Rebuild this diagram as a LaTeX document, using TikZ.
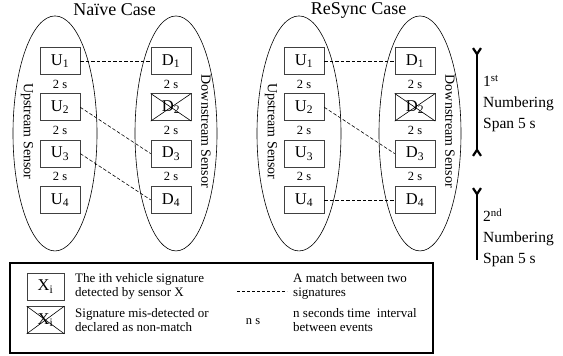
\documentclass[tikz,border=0pt]{standalone}
\usepackage{fontspec}
\setmainfont{Liberation Serif}
\usetikzlibrary{positioning,calc,arrows.meta}
\tikzset{
  sig/.style={draw=black!75, line width=0.6pt, minimum width=40pt, minimum height=27pt, inner sep=0pt, font=\fontsize{16.5}{16.5}\selectfont},
  gapnum/.style={inner sep=0pt, font=\fontsize{12.5}{12.5}\selectfont},
  sensorname/.style={rotate=-90, inner sep=0pt, font=\fontsize{14}{14}\selectfont},
  casename/.style={inner sep=0pt, font=\fontsize{18}{18}\selectfont},
  matchline/.style={line width=0.6pt, dash pattern=on 3.5pt off 2pt},
  spanbar/.style={line width=2.2pt, >={Straight Barb[length=6pt,width=8pt]}},
  spantext/.style={align=left, anchor=west, inner sep=0pt, font=\fontsize{15.5}{21}\selectfont},
  notetext/.style={align=left, anchor=west, inner sep=0pt, font=\fontsize{13}{14}\selectfont},
}
\begin{document}
\begin{tikzpicture}[x=1pt, y=1pt, node distance=46.3pt]
  \useasboundingbox (0,0) rectangle (563,356);

  \foreach \c/\dx/\ttl in {n/0/Naïve Case, r/244/ReSync Case} {
    \begin{scope}[xshift=\dx pt]
      \node [sig] (\c U1) at (60,295) {U\textsubscript{1}};
      \node [sig, below of=\c U1] (\c U2) {U\textsubscript{2}};
      \node [sig, below of=\c U2] (\c U3) {U\textsubscript{3}};
      \node [sig, below of=\c U3] (\c U4) {U\textsubscript{4}};
      \node [sig, right of=\c U1, node distance=111pt] (\c D1) {D\textsubscript{1}};
      \node [sig, below of=\c D1] (\c D2) {D\textsubscript{2}};
      \node [sig, below of=\c D2] (\c D3) {D\textsubscript{3}};
      \node [sig, below of=\c D3] (\c D4) {D\textsubscript{4}};
      \draw [line width=0.6pt] (\c D2.north west) -- (\c D2.south east) (\c D2.south west) -- (\c D2.north east);

      \foreach \i/\j in {1/2, 2/3, 3/4} {
        \node [gapnum] at ($(\c U\i)!.5!(\c U\j)$) {2 s};
        \node [gapnum] at ($(\c D\i)!.5!(\c D\j)$) {2 s};
      }

      \draw [line width=0.6pt] ($(\c U1)!.5!(\c U4)+(-5,-3)$) ellipse [x radius=42pt, y radius=117.5pt];
      \draw [line width=0.6pt] ($(\c D1)!.5!(\c D4)+(5,-3)$) ellipse [x radius=41pt, y radius=117.5pt];
      \node [sensorname] at ($(\c U1)!.5!(\c U4)+(-33,-1)$) {Upstream Sensor};
      \node [sensorname] at ($(\c D1)!.5!(\c D4)+(35,-1)$) {Downstream Sensor};
      \node [casename] at ($(\c U1)!.5!(\c D1)+(-1,51)$) {\ttl};
    \end{scope}
  }

  \draw [matchline] (nU1.east) -- (nD1.west);
  \draw [matchline] (nU2.east) -- (nD3.west);
  \draw [matchline] (nU3.east) -- (nD4.west);
  \draw [matchline] (rU1.east) -- (rD1.west);
  \draw [matchline] (rU2.east) -- (rD3.west);
  \draw [matchline] (rU4.east) -- (rD4.west);

  \coordinate (span1a) at (477,309);
  \coordinate (span1b) at (477,199);
  \coordinate (span2a) at (477,169);
  \coordinate (span2b) at (477,96);
  \draw [spanbar, >-<] (span1a) -- (span1b);
  \draw [spanbar, >-] (span2a) -- (span2b);
  \node [spantext] (span1) at (483,252.5) {1\textsuperscript{st}\\Numbering\\Span 5 s};
  \node [spantext] (span2) at (483,118) {2\textsuperscript{nd}\\Numbering\\Span 5 s};

  \node [draw, line width=2pt, minimum width=423pt, minimum height=90pt, inner sep=0pt] (legend) at (221.5,48) {};
  \node [sig, minimum width=37pt] (keyX) at (45.5,69.5) {X\textsubscript{i}};
  \node [sig, minimum width=37pt] (keyM) at (45.5,36) {X\textsubscript{i}};
  \draw [line width=0.6pt] (keyM.north west) -- (keyM.south east) (keyM.south west) -- (keyM.north east);
  \node [notetext] (txtX) at (75,69.5) {The ith vehicle signature\\detected by sensor X};
  \node [notetext] (txtM) at (75,36) {Signature mis-detected or\\declared as non-match};
  \coordinate (matchA) at (237,65);
  \coordinate (matchB) at (287,65);
  \draw [line width=0.6pt, dash pattern=on 3pt off 2pt] (matchA) -- (matchB);
  \node [notetext] (txtMatch) at (293,69.5) {A match between two\\signatures};
  \node [gapnum] (ns) at (253,34) {n s};
  \node [notetext] (txtGap) at (293,36) {n seconds time \ interval\\between events};
\end{tikzpicture}
\end{document}
